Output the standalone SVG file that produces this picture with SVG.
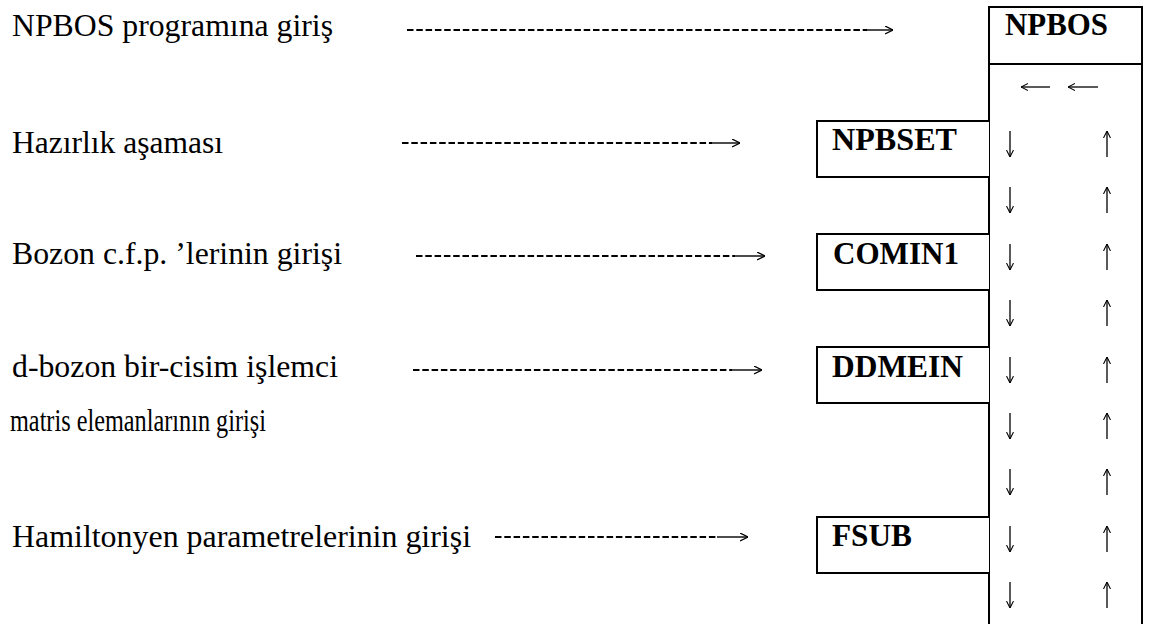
<svg xmlns="http://www.w3.org/2000/svg" width="1152" height="624" viewBox="0 0 1152 624">
<style>
.t{font-family:"Liberation Serif","Times New Roman",serif;font-size:31.5px;fill:#000}
.b{font-family:"Liberation Serif","Times New Roman",serif;font-size:31.5px;font-weight:bold;fill:#000}
.box{fill:#fff;stroke:#000;stroke-width:2}
.dash{stroke:#000;stroke-width:2.2;stroke-dasharray:6.5 2.8;fill:none}
.solid{stroke:#000;stroke-width:1.4;fill:none}
.fa{stroke:#000;stroke-width:1.3;fill:none}
</style>
<defs>
<marker id="ah" viewBox="0 0 10 10" refX="10" refY="5" markerUnits="userSpaceOnUse" markerWidth="8" markerHeight="9" orient="auto">
<path d="M0,0 L10,5 L0,10" fill="none" stroke="#000" stroke-width="1.6"/>
</marker>
<marker id="fh" viewBox="0 0 10 10" refX="10" refY="5" markerUnits="userSpaceOnUse" markerWidth="7" markerHeight="10" orient="auto">
<path d="M0,0 L10,5 L0,10" fill="none" stroke="#000" stroke-width="1.5"/>
</marker>
<g id="dn"><line class="fa" x1="0" y1="-13" x2="0" y2="13" marker-end="url(#fh)"/></g>
<g id="up"><line class="fa" x1="0" y1="13" x2="0" y2="-13" marker-end="url(#fh)"/></g>
</defs>
<rect width="1152" height="624" fill="#fff"/>
<g id="labels">
<text class="t" x="12" y="36" textLength="321" lengthAdjust="spacingAndGlyphs">NPBOS programına giriş</text>
<text class="t" x="12" y="153" textLength="211" lengthAdjust="spacingAndGlyphs">Hazırlık aşaması</text>
<text class="t" x="12" y="264" textLength="330" lengthAdjust="spacingAndGlyphs">Bozon c.f.p. ’lerinin girişi</text>
<text class="t" x="12" y="377" textLength="326" lengthAdjust="spacingAndGlyphs">d-bozon bir-cisim işlemci</text>
<text class="t" transform="translate(10,431) scale(0.77,1)">matris elemanlarının girişi</text>
<text class="t" x="12" y="547" textLength="459" lengthAdjust="spacingAndGlyphs">Hamiltonyen parametrelerinin girişi</text>
</g>
<g id="connectors">
<line class="dash" x1="407" y1="30" x2="867" y2="30"/>
<line class="solid" x1="866" y1="30" x2="893" y2="30" marker-end="url(#ah)"/>
<line class="dash" x1="402" y1="143" x2="712" y2="143"/>
<line class="solid" x1="711" y1="143" x2="740" y2="143" marker-end="url(#ah)"/>
<line class="dash" x1="416" y1="256" x2="735" y2="256"/>
<line class="solid" x1="734" y1="256" x2="765" y2="256" marker-end="url(#ah)"/>
<line class="dash" x1="413" y1="370" x2="732" y2="370"/>
<line class="solid" x1="731" y1="370" x2="762" y2="370" marker-end="url(#ah)"/>
<line class="dash" x1="495" y1="537" x2="718" y2="537"/>
<line class="solid" x1="717" y1="537" x2="748" y2="537" marker-end="url(#ah)"/>
</g>
<g id="NPBOS">
<path d="M989,625 V7 H1142 V625" fill="none" stroke="#000" stroke-width="2"/>
<line x1="989" y1="64" x2="1142" y2="64" stroke="#000" stroke-width="2"/>
<text class="b" x="1005" y="35" textLength="103" lengthAdjust="spacingAndGlyphs">NPBOS</text>
<line class="fa" x1="1050" y1="87" x2="1021" y2="87" marker-end="url(#fh)"/>
<line class="fa" x1="1098" y1="87" x2="1068" y2="87" marker-end="url(#fh)"/>
<g id="flow-arrows">
<use href="#dn" x="1010" y="144"/><use href="#up" x="1107" y="144"/>
<use href="#dn" x="1010" y="200"/><use href="#up" x="1107" y="200"/>
<use href="#dn" x="1010" y="257"/><use href="#up" x="1107" y="257"/>
<use href="#dn" x="1010" y="313"/><use href="#up" x="1107" y="313"/>
<use href="#dn" x="1010" y="370"/><use href="#up" x="1107" y="370"/>
<use href="#dn" x="1010" y="426"/><use href="#up" x="1107" y="426"/>
<use href="#dn" x="1010" y="482"/><use href="#up" x="1107" y="482"/>
<use href="#dn" x="1010" y="539"/><use href="#up" x="1107" y="539"/>
<use href="#dn" x="1010" y="595"/><use href="#up" x="1107" y="595"/>
</g>
</g>
<g id="NPBSET">
<path class="box" d="M989,121 H817 V177 H989"/>
<text class="b" x="832" y="150" textLength="125" lengthAdjust="spacingAndGlyphs">NPBSET</text>
</g>
<g id="COMIN1">
<path class="box" d="M989,234 H817 V290 H989"/>
<text class="b" x="833" y="264" textLength="126" lengthAdjust="spacingAndGlyphs">COMIN1</text>
</g>
<g id="DDMEIN">
<path class="box" d="M989,347 H817 V403 H989"/>
<text class="b" x="832" y="377" textLength="131" lengthAdjust="spacingAndGlyphs">DDMEIN</text>
</g>
<g id="FSUB">
<path class="box" d="M989,517 H817 V573 H989"/>
<text class="b" x="832" y="546" textLength="80" lengthAdjust="spacingAndGlyphs">FSUB</text>
</g>
</svg>
